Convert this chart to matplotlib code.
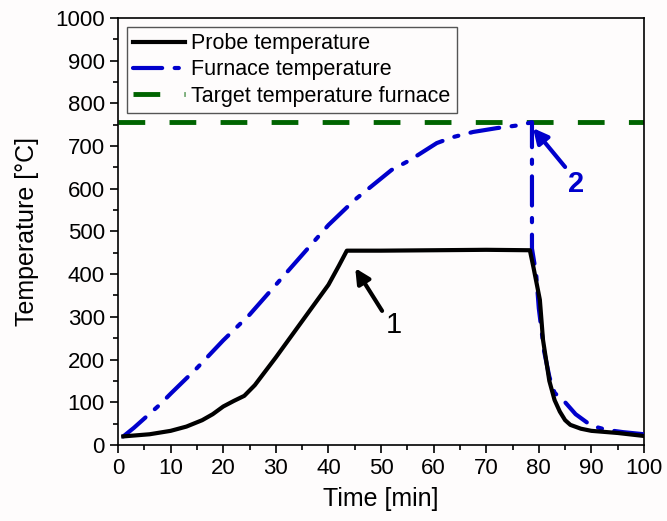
"""
Probe and furnace temperature over time.
"""

import matplotlib

matplotlib.use("Agg")
import matplotlib.pyplot as plt
from matplotlib.ticker import MultipleLocator

# Probe temperature (black solid)
probe_time = [1, 3, 6, 10, 13, 16, 18, 20, 22, 24, 26, 30, 35, 40, 42, 43.5,
              50, 60, 70, 78.3, 79, 80.2, 80.8, 82, 83, 84, 85, 86, 88, 90,
              95, 100]
probe_temp = [20, 22, 25, 33, 43, 58, 72, 90, 103, 115, 140, 205, 290, 375,
              420, 455, 455, 456, 457, 456, 415, 340, 246, 150, 105, 78, 58,
              47, 38, 33, 28, 21]

# Furnace temperature (blue dash-dot)
furnace_time = [1, 3, 5, 8, 10, 15, 20, 25, 30, 35, 40, 45, 52, 55.5, 60.6,
                63.7, 67.5, 72, 76.4, 78.7, 78.7, 79.5, 80, 81, 82, 83, 85,
                87, 90, 93, 96, 100]
furnace_temp = [20, 40, 62, 95, 120, 180, 245, 305, 375, 445, 515, 574, 644,
                667, 707, 721, 733, 742, 749, 756, 460, 400, 320, 220, 160,
                122, 100, 72, 45, 35, 30, 25]

# Target furnace temperature (green dashed)
target_time = [0, 100]
target_temp = [757, 757]

# Annotation points: (arrow tip, arrow tail, label position)
note_1 = [(45.1, 414), (50.2, 314), (52.5, 282)]
note_2 = [(78.9, 742), (85.0, 651), (87.0, 612)]

plt.rcParams["font.family"] = ["Liberation Sans", "DejaVu Sans"]

fig, ax = plt.subplots(figsize=(6.67, 5.21), dpi=100)
fig.patch.set_facecolor("#fefcfc")
ax.set_facecolor("#fefcfc")
fig.subplots_adjust(left=0.177, right=0.9655, bottom=0.146, top=0.9655)

ax.plot(probe_time, probe_temp, color="black", lw=3, label="Probe temperature",
        zorder=4)
ax.plot(furnace_time, furnace_temp, color="#0000cc", lw=3,
        dashes=(7, 3, 1, 3), dash_capstyle="round",
        label="Furnace temperature", zorder=3)
ax.plot(target_time, target_temp, color="#006400", lw=3.5, dashes=(5.5, 5),
        label="Target temperature furnace", zorder=2)

# Arrows with numbered labels
for (tip, tail, pos), colour, weight in [(note_1, "black", "normal"),
                                         (note_2, "#0000cc", "bold")]:
    ax.annotate("", xy=tip, xytext=tail,
                arrowprops=dict(arrowstyle="-|>", lw=3, color=colour,
                                mutation_scale=22, shrinkA=0, shrinkB=0))
    ax.text(pos[0], pos[1], "1" if colour == "black" else "2", fontsize=21,
            fontweight=weight, color=colour, ha="center", va="center")

ax.set_xlim(0, 100)
ax.set_ylim(0, 1000)
ax.xaxis.set_major_locator(MultipleLocator(10))
ax.xaxis.set_minor_locator(MultipleLocator(5))
ax.yaxis.set_major_locator(MultipleLocator(100))
ax.yaxis.set_minor_locator(MultipleLocator(50))
ax.tick_params(which="major", length=6, width=1.2, labelsize=16)
ax.tick_params(which="minor", length=3.5, width=1.2)
for spine in ax.spines.values():
    spine.set_linewidth(1.2)

ax.set_xlabel("Time [min]", fontsize=18, labelpad=6)
ax.set_ylabel("Temperature [°C]", fontsize=18, labelpad=12)

leg = ax.legend(loc="upper left", fontsize=15.5, frameon=True, fancybox=False,
                edgecolor="#555555", facecolor="#fefcfc", framealpha=1,
                handlelength=2.4, handletextpad=0.3, borderpad=0.3,
                labelspacing=0.25, borderaxespad=0.4)
leg.get_frame().set_linewidth(1.0)

plt.savefig("out.png", dpi=100, facecolor=fig.get_facecolor())
